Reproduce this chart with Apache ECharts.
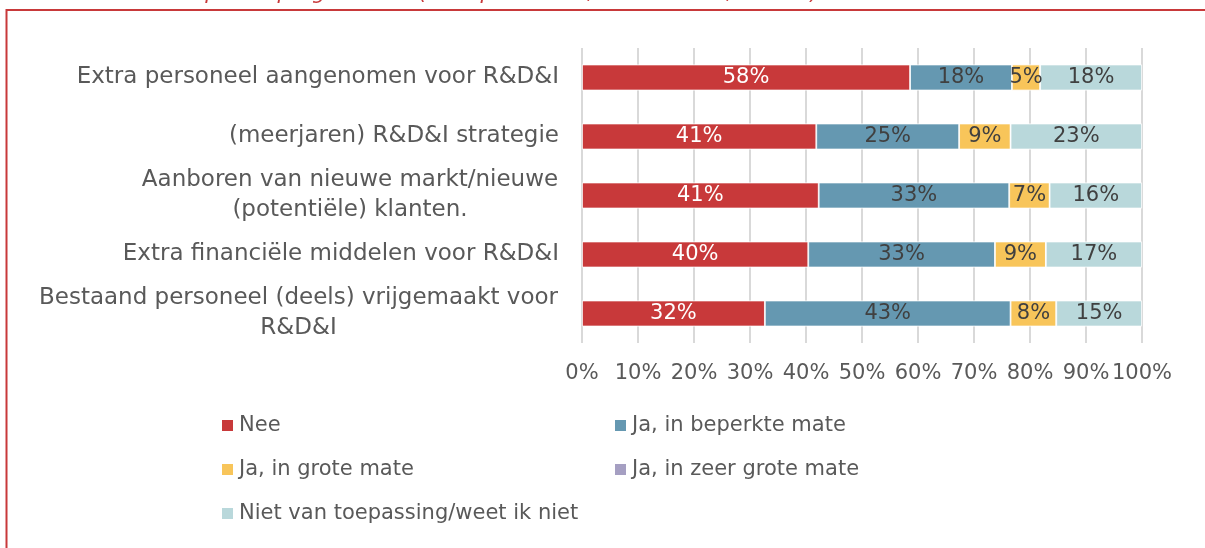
<!DOCTYPE html>
<html>
<head>
<meta charset="utf-8">
<script src="https://cdn.jsdelivr.net/npm/echarts@6/dist/echarts.min.js"></script>
<style>
  html, body { margin: 0; padding: 0; background: #fff; }
  #main { width: 1205px; height: 548px; }
</style>
</head>
<body>
<div id="main"></div>
<script>
var categories = [
    'Extra personeel aangenomen voor R&D&I',
    '(meerjaren) R&D&I strategie',
    'Aanboren van nieuwe markt/nieuwe\n(potentiële) klanten.',
    'Extra financiële middelen voor R&D&I',
    'Bestaand personeel (deels) vrijgemaakt voor\nR&D&I'
];
var seriesNames = ['Nee', 'Ja, in beperkte mate', 'Ja, in grote mate', 'Ja, in zeer grote mate', 'Niet van toepassing/weet ik niet'];
// percentages as shown in the data labels
var nee = [58, 41, 41, 40, 32];
var beperkt = [18, 25, 33, 33, 43];
var groot = [5, 9, 7, 9, 8];
var zeerGroot = [0, 0, 0, 0, 0];
var nvt = [18, 23, 16, 17, 15];
var xTicks = [0, 10, 20, 30, 40, 50, 60, 70, 80, 90, 100];
var colors = ['#C8393A', '#6598B1', '#F8C55A', '#A59FC2', '#B9D8DB'];

var FONT = 'DejaVu Sans';
var CAT_SIZE = 23;
var rows = [nee, beperkt, groot, zeerGroot, nvt];

// 100% stacked: every bar is scaled to its own total
var totals = categories.map(function (c, i) {
    return rows.reduce(function (s, r) { return s + r[i]; }, 0);
});

// measure lines so the two-line labels are centred on themselves
var ctx = document.createElement('canvas').getContext('2d');
ctx.font = CAT_SIZE + 'px "' + FONT + '"';
function labelWidth(txt) {
    return Math.max.apply(null, txt.split('\n').map(function (l) { return ctx.measureText(l).width; }));
}
var catRich = {};
categories.forEach(function (c, i) {
    catRich['r' + i] = {
        fontFamily: FONT, fontSize: CAT_SIZE, color: '#595959',
        lineHeight: 30, align: 'center', width: Math.ceil(labelWidth(c)) + 1
    };
});

var chartDom = document.getElementById('main');
var myChart = echarts.init(chartDom);

var series = rows.map(function (r, k) {
    return {
        name: seriesNames[k],
        type: 'bar',
        stack: 'total',
        barWidth: 26,
        itemStyle: { color: colors[k], borderColor: '#fff', borderWidth: 0.8 },
        label: {
            show: true,
            position: 'inside',
            fontFamily: FONT,
            fontSize: 21,
            color: k === 0 ? '#fff' : '#404040',
            formatter: function (p) {
                var v = r[p.dataIndex];
                return v ? v + '%' : '';
            }
        },
        data: r.map(function (v, i) { return v / totals[i] * 100; })
    };
});

var legendText = { fontFamily: FONT, fontSize: 21, color: '#595959' };

let option = {
    animation: false,
    backgroundColor: '#fff',
    color: colors,
    grid: { left: 582, right: 63, top: 48, bottom: 205 },
    xAxis: {
        type: 'value',
        min: 0,
        max: 100,
        interval: 10,
        axisLine: { show: false },
        axisTick: { show: false },
        splitLine: { lineStyle: { color: '#D9D9D9', width: 2 } },
        axisLabel: {
            margin: 20,
            fontFamily: FONT,
            fontSize: 21,
            color: '#595959',
            formatter: function (v) { return xTicks.indexOf(v) >= 0 ? v + '%' : ''; }
        }
    },
    yAxis: {
        type: 'category',
        inverse: true,
        data: categories,
        axisLine: { show: false },
        axisTick: { show: false },
        axisLabel: {
            margin: 23,
            fontFamily: FONT,
            fontSize: CAT_SIZE,
            color: '#595959',
            lineHeight: 30,
            formatter: function (v, i) {
                if (v.indexOf('\n') < 0) return v;
                return v.split('\n').map(function (l) { return '{r' + i + '|' + l + '}'; }).join('\n');
            },
            rich: catRich
        }
    },
    legend: [
        {
            orient: 'vertical', left: 220, top: 415, padding: 0,
            itemWidth: 13, itemHeight: 13, itemGap: 23,
            icon: 'rect', textStyle: legendText,
            data: [seriesNames[0], seriesNames[2], seriesNames[4]]
        },
        {
            orient: 'vertical', left: 613, top: 415, padding: 0,
            itemWidth: 13, itemHeight: 13, itemGap: 23,
            icon: 'rect', textStyle: legendText,
            data: [seriesNames[1], seriesNames[3]]
        }
    ],
    graphic: [
        {
            type: 'rect',
            shape: { x: 6.5, y: 10, width: 1400, height: 800 },
            style: { fill: 'none', stroke: '#C8393A', lineWidth: 2 },
            silent: true
        },
        {
            type: 'text',
            left: 119, top: -17,
            style: {
                text: 'het Perspectiefprogramma? (multiple choice, beantwoord, n=198)',
                fill: '#C8393A',
                font: 'italic 21px "' + FONT + '"'
            },
            silent: true
        }
    ],
    series: series
};

option && myChart.setOption(option);
</script>
</body>
</html>
